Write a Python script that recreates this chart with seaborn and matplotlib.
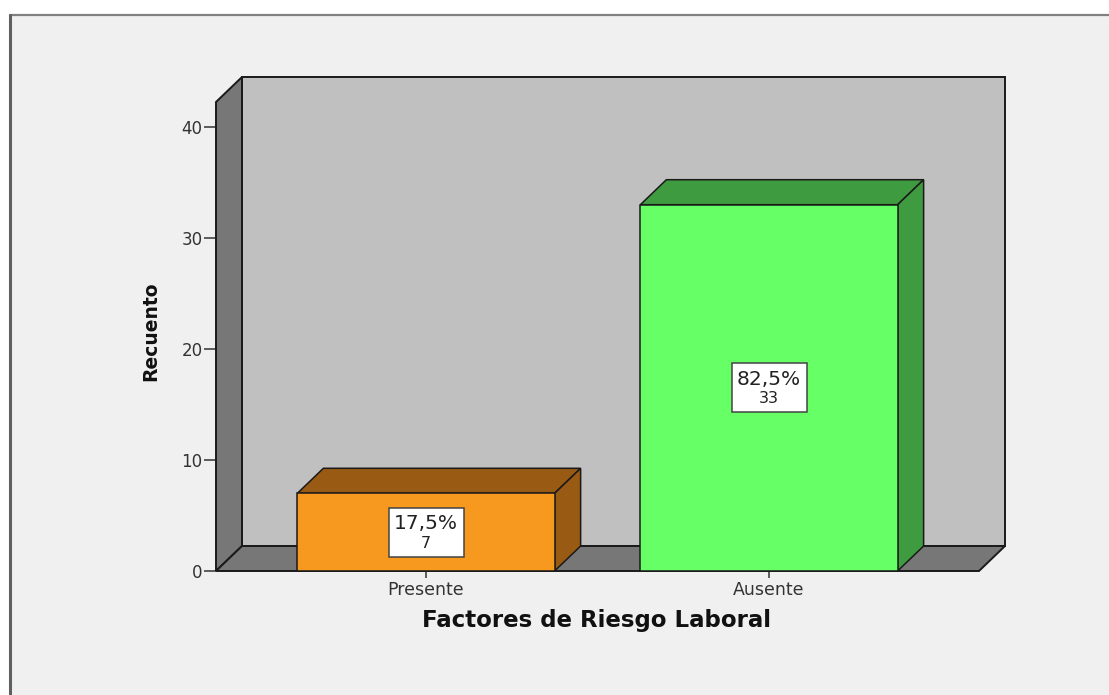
import numpy as np
import pandas as pd
import seaborn as sns
import matplotlib.pyplot as plt
from matplotlib.patches import Polygon, Rectangle
from matplotlib.lines import Line2D

# Data
categories = ['Presente', 'Ausente']
counts = [7, 33]
percents = [17.5, 82.5]
front_colors = ['#F7991F', '#66FF66']
shade_colors = ['#995A14', '#3F9B3F']
y_ticks = [0, 10, 20, 30, 40]

W, H = 1109, 695
EDGE = '#1a1a1a'

sns.set_theme(style='white')
plt.rcParams['font.family'] = ['DejaVu Sans']

fig = plt.figure(figsize=(W / 100, H / 100), dpi=100)
fig.patch.set_facecolor('white')

# Grey chart panel with its border (top and left edges visible)
fig.add_artist(Rectangle((10 / W, 0), 1, 1 - 15 / H, transform=fig.transFigure,
                         facecolor='#F0F0F0', edgecolor='none', zorder=-10))
fig.add_artist(Line2D([10 / W, 1], [1 - 15 / H, 1 - 15 / H], transform=fig.transFigure,
                      color='#808080', lw=1.6, zorder=-9))
fig.add_artist(Line2D([10 / W, 10 / W], [0, 1 - 15 / H], transform=fig.transFigure,
                      color='#606060', lw=2.2, zorder=-9))

# Axes box: front plane from x=216 px, y=571 px (zero) up to back-wall top
ax = fig.add_axes([216 / W, 1 - 571 / H, 789 / W, 494 / H])
ax.set_facecolor('none')

df = pd.DataFrame({'factor': categories, 'recuento': counts})
sns.barplot(data=df, x='factor', y='recuento', hue='factor', order=categories,
            hue_order=categories, palette=front_colors, saturation=1, width=0.75,
            edgecolor=EDGE, linewidth=1.1, legend=False, ax=ax, zorder=5)
bars = list(ax.patches)

px_per_x = 343.0
px_per_y = 11.1
x0 = -210 / px_per_x
x1 = x0 + 789 / px_per_x
ytop = 494 / px_per_y
ax.set_xlim(x0, x1)
ax.set_ylim(0, ytop)

# depth offset of the 3D effect in data units
ddx = 26 / px_per_x
ddy = 25 / px_per_y

# back wall, left wall and floor
wall_kw = dict(closed=True, edgecolor=EDGE, lw=1.4, zorder=1, clip_on=False)
ax.add_patch(Polygon([(x0 + ddx, ddy), (x1, ddy), (x1, ytop), (x0 + ddx, ytop)],
                     facecolor='#C0C0C0', **wall_kw))
ax.add_patch(Polygon([(x0, 0), (x0 + ddx, ddy), (x0 + ddx, ytop), (x0, ytop - ddy)],
                     facecolor='#777777', **wall_kw))
ax.add_patch(Polygon([(x0, 0), (x1 - ddx, 0), (x1, ddy), (x0 + ddx, ddy)],
                     facecolor='#777777', **wall_kw))

# top and side faces of each bar + value labels
for bar, shade, pct, n in zip(bars, shade_colors, percents, counts):
    bar.set_clip_on(False)
    bx, bw, bh = bar.get_x(), bar.get_width(), bar.get_height()
    ax.add_patch(Polygon([(bx, bh), (bx + ddx, bh + ddy), (bx + bw + ddx, bh + ddy), (bx + bw, bh)],
                         closed=True, facecolor=shade, edgecolor=EDGE, lw=1.1, zorder=4,
                         clip_on=False))
    ax.add_patch(Polygon([(bx + bw, 0), (bx + bw + ddx, ddy), (bx + bw + ddx, bh + ddy), (bx + bw, bh)],
                         closed=True, facecolor=shade, edgecolor=EDGE, lw=1.1, zorder=4,
                         clip_on=False))
    cx, cy = bx + bw / 2, bh / 2
    box_w, box_h = 75 / px_per_x, 49 / px_per_y
    ax.add_patch(Rectangle((cx - box_w / 2, cy - box_h / 2), box_w, box_h,
                           facecolor='white', edgecolor='#444444', lw=1.1, zorder=6))
    ax.annotate(f'{pct:.1f}%'.replace('.', ','), (cx, cy), xytext=(0, 6),
                textcoords='offset points', ha='center', va='center',
                fontsize=14.5, color='#222222', zorder=7)
    ax.annotate(f'{n}', (cx, cy), xytext=(0, -8),
                textcoords='offset points', ha='center', va='center',
                fontsize=11.5, color='#222222', zorder=7)

# axes styling
for s in ax.spines.values():
    s.set_visible(False)
ax.set_yticks(y_ticks)
ax.set_xticks(range(len(categories)))
ax.set_xticklabels(categories)
ax.tick_params(axis='y', left=True, length=8.6, width=1.1, color='#333333',
               pad=1, labelsize=12, labelcolor='#333333')
ax.tick_params(axis='x', bottom=True, length=5, width=1.1, color='#333333',
               pad=2, labelsize=12.5, labelcolor='#333333')

ax.set_xlabel('Factores de Riesgo Laboral', fontsize=16.5, fontweight='bold',
              color='#111111', va='center')
ax.xaxis.set_label_coords((596 - 216) / 789, -(621 - 571) / 494)
ax.set_ylabel('Recuento', fontsize=13.5, fontweight='bold', color='#111111',
              va='center')
ax.yaxis.set_label_coords((151 - 216) / 789, (571 - 331) / 494)

fig.savefig('out.png', dpi=100, facecolor=fig.get_facecolor())
